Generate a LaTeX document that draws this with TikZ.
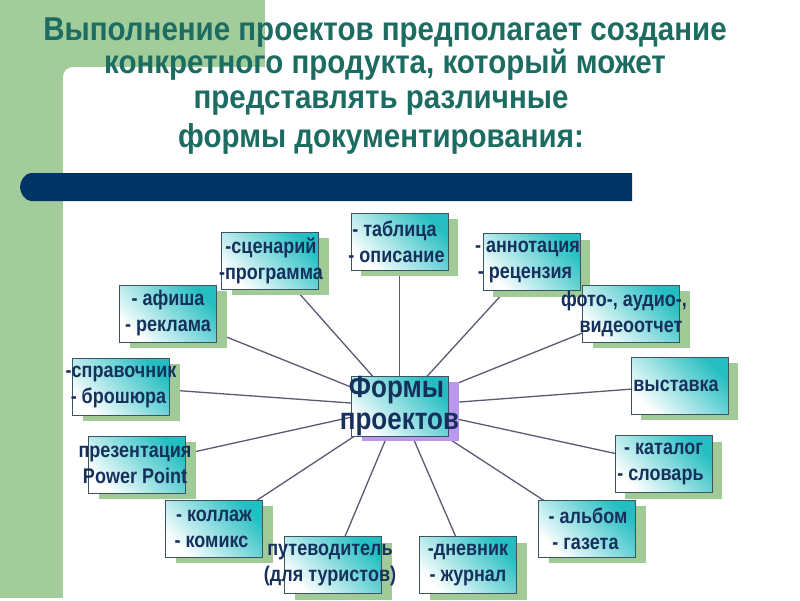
\documentclass[tikz,border=0pt]{standalone}
\usepackage{fontspec}
\setmainfont{Liberation Sans}
\usepackage{graphicx}
\definecolor{bggreen}{RGB}{162,204,154}
\definecolor{shgreen}{RGB}{160,202,150}
\definecolor{navybar}{RGB}{0,51,102}
\definecolor{titlecol}{RGB}{28,108,98}
\definecolor{boxteal}{RGB}{36,190,194}
\definecolor{boxmid}{RGB}{185,236,238}
\definecolor{boxline}{RGB}{58,84,96}
\definecolor{boxtext}{RGB}{22,48,92}
\definecolor{linkcol}{RGB}{95,88,115}
\definecolor{shpurple}{RGB}{186,152,240}
\newcommand{\vstr}[1]{\scalebox{1}[1.18]{#1}}
\newcommand{\tstr}[1]{\scalebox{1}[1.12]{#1}}
\newcommand{\boxln}[2][0pt]{\makebox[0pt][c]{\hspace{#1}\vstr{#2}}}
\pgfdeclarelayer{back}
\pgfdeclarelayer{links}
\pgfdeclarelayer{shadows}
\pgfsetlayers{back,links,shadows,main}
\begin{document}
\begin{tikzpicture}[x=1pt,y=-1pt,
  formbox/.style={draw=boxline, line width=1pt, minimum width=97pt, minimum height=57pt,
    inner sep=0pt, align=center, text=boxtext, font=\fontsize{18}{26}\selectfont\bfseries,
    top color=boxteal, middle color=boxmid, bottom color=white, shading angle=-45},
  shbox/.style={fill=shgreen, minimum width=97pt, minimum height=57pt, inner sep=0pt},
  titletext/.style={anchor=base, text=titlecol, font=\fontsize{29.5}{35}\selectfont\bfseries, inner sep=0pt},
  link/.style={draw=linkcol, line width=1.3pt}
]
\useasboundingbox (0,0) rectangle (800,600);
\begin{pgfonlayer}{back}
\fill[white] (0,0) rectangle (800,600);
\fill[bggreen] (0,0) rectangle (265,598);
\fill[white, rounded corners=10pt] (63,67) rectangle (420,700);
\fill[navybar] (632,173) -- (31,173) .. controls (25,173) and (20,181) .. (20,187)
  .. controls (20,193) and (25,201) .. (31,201) -- (632,201) -- cycle;
\end{pgfonlayer}

\node[titletext] (t1) at (385,40) {\tstr{Выполнение проектов предполагает создание}};
\node[titletext] (t2) at (385,73) {\tstr{конкретного продукта, который может}};
\node[titletext] (t3) at (381,108) {\tstr{представлять различные}};
\node[titletext] (t4) at (381,147) {\tstr{формы документирования:}};

\node[formbox] (b1) at (270,260.5) {\boxln[2pt]{-сценарий}\\\boxln[2pt]{-программа}};
\node[formbox] (b2) at (399.5,241.5) {\boxln[-10pt]{- таблица}\\\boxln[-6pt]{- описание}};
\node[formbox] (b3) at (531.5,262) {\boxln[-8pt]{- аннотация}\\\boxln[-13pt]{- рецензия}};
\node[formbox] (b4) at (631,313.5) {\boxln[-14pt]{фото-, аудио-,}\\\boxln{видеоотчет}};
\node[formbox] (b5) at (679.5,385.5) {\boxln[-7pt]{выставка}};
\node[formbox] (b6) at (663.5,464) {\boxln{- каталог}\\\boxln[-6pt]{- словарь}};
\node[formbox] (b7) at (587,528.5) {\boxln[2pt]{- альбом}\\\boxln[-3pt]{- газета}};
\node[formbox] (b8) at (468,565) {\boxln{-дневник}\\\boxln{- журнал}};
\node[formbox] (b9) at (333,565) {\boxln[-6pt]{путеводитель}\\\boxln[-6pt]{(для туристов)}};
\node[formbox] (b10) at (214,528.5) {\boxln{- коллаж}\\\boxln[-5pt]{- комикс}};
\node[formbox] (b11) at (137,464.5) {\boxln[-4pt]{презентация}\\\boxln[-4pt]{Power Point}};
\node[formbox] (b12) at (121,386.5) {\boxln{-справочник}\\\boxln[-5pt]{- брошюра}};
\node[formbox] (b13) at (168,313.5) {\boxln{- афиша}\\\boxln{- реклама}};
\node[formbox, minimum height=59pt, font=\fontsize{26}{32}\selectfont\bfseries] (c) at (399.5,406.5)
  {\boxln[-6pt]{Формы}\\\boxln{проектов}};

\begin{pgfonlayer}{shadows}
\foreach \n in {b1,b2,b3,b4,b5,b6,b7,b8,b9,b10,b11,b12,b13}
  \node[shbox] at ([shift={(10,6)}]\n.center) {};
\node[shbox, fill=shpurple, minimum height=59pt] at ([shift={(11,5)}]c.center) {};
\end{pgfonlayer}

\begin{pgfonlayer}{links}
\foreach \n in {b1,b2,b3,b4,b5,b6,b7,b8,b9,b10,b11,b12,b13}
  \draw[link] (c.center) -- (\n.center);
\end{pgfonlayer}
\end{tikzpicture}
\end{document}
